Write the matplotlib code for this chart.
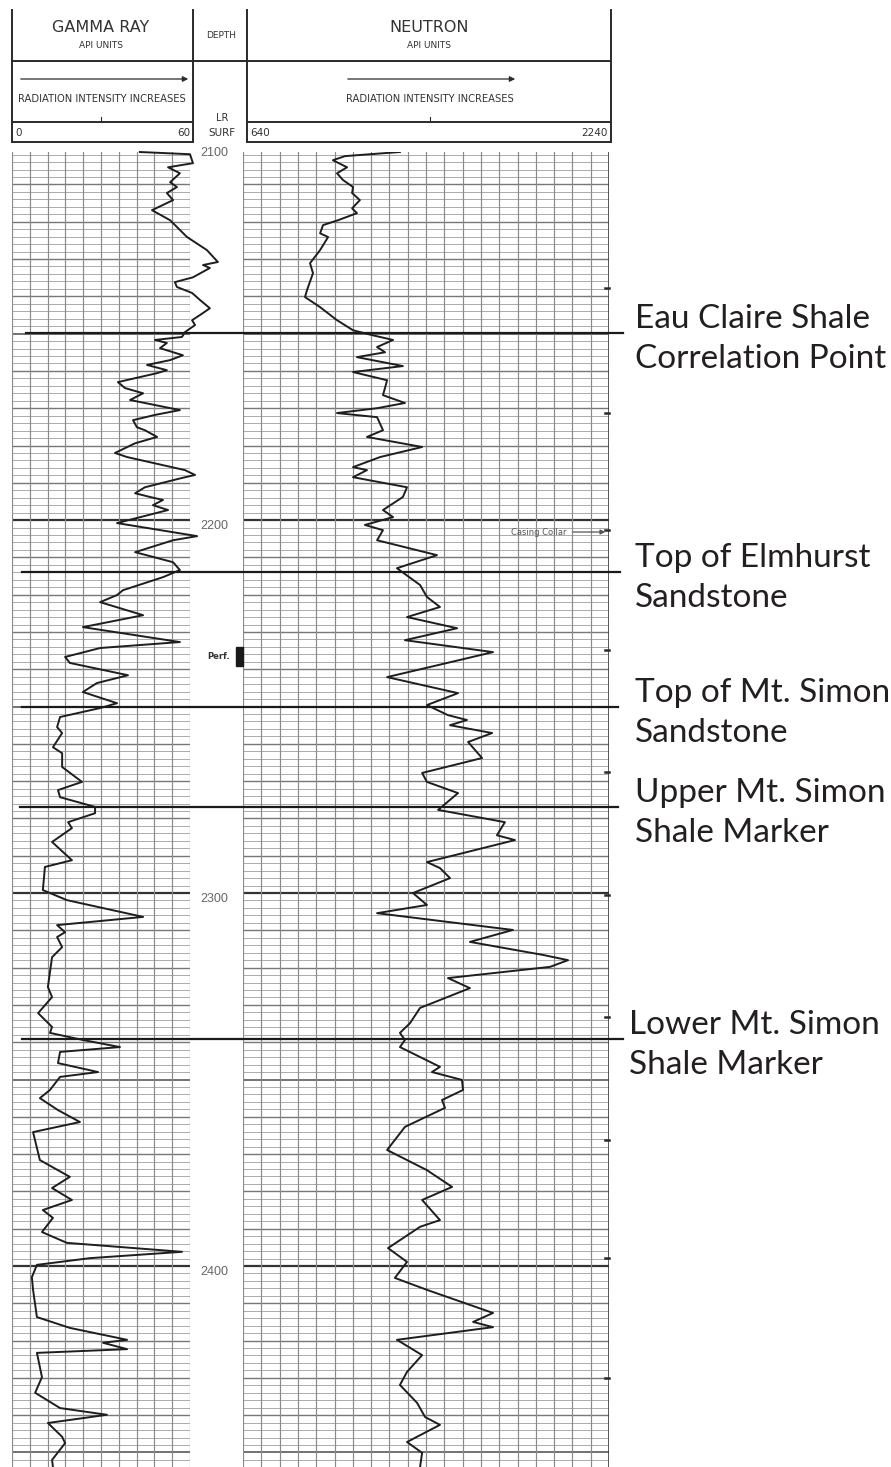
import numpy as np
import matplotlib
matplotlib.use("Agg")
import matplotlib.pyplot as plt
from matplotlib.patches import Rectangle

W, H = 891, 1467

# gamma ray curve: depth (ft) and API units
gamma_depth = [2101.3, 2101.9, 2104.3, 2105.4, 2107.0, 2109.4, 2110.7, 2112.3, 2114.2, 2116.9,
               2119.6, 2124.1, 2127.6, 2130.8, 2131.6, 2132.4, 2134.9, 2136.2, 2137.5, 2139.1,
               2141.0, 2143.2, 2145.0, 2146.4, 2147.7, 2149.6, 2150.9, 2151.7, 2152.5, 2153.9,
               2155.8, 2157.1, 2158.4, 2159.8, 2160.6, 2163.0, 2164.6, 2166.0, 2167.8, 2170.5,
               2171.8, 2173.2, 2175.1, 2175.9, 2177.7, 2179.4, 2182.0, 2183.1, 2186.6, 2187.9,
               2188.7, 2191.2, 2192.8, 2193.8, 2194.6, 2196.0, 2197.3, 2200.8, 2204.3, 2205.4,
               2208.6, 2211.3, 2213.4, 2215.3, 2218.8, 2220.1, 2222.0, 2225.5, 2228.7, 2232.7,
               2234.3, 2236.7, 2238.3, 2241.6, 2243.7, 2246.1, 2249.1, 2250.4, 2252.8, 2255.5,
               2257.1, 2260.9, 2262.5, 2266.2, 2270.2, 2272.4, 2274.3, 2276.9, 2278.6, 2281.0,
               2282.6, 2286.3, 2291.2, 2293.0, 2299.2, 2301.9, 2306.4, 2308.6, 2310.5, 2311.8,
               2314.5, 2317.2, 2325.2, 2327.9, 2332.2, 2335.9, 2337.5, 2339.4, 2341.3, 2342.6,
               2345.6, 2348.0, 2349.3, 2352.8, 2355.0, 2358.2, 2361.4, 2364.1, 2371.6, 2376.1,
               2379.1, 2382.3, 2385.0, 2387.1, 2390.9, 2393.8, 2396.2, 2397.9, 2399.7, 2403.0,
               2406.4, 2413.7, 2416.6, 2419.8, 2420.6, 2422.3, 2423.3, 2429.8, 2434.0, 2438.1,
               2439.9, 2442.1, 2445.8, 2447.5, 2452.0, 2453.9]
gamma_api = [43.1, 60.0, 61.0, 52.6, 56.6, 53.3, 55.6, 52.2, 54.3, 47.2,
             53.3, 59.0, 65.7, 69.4, 64.4, 66.7, 61.0, 54.9, 55.6, 60.7,
             63.4, 66.7, 63.4, 60.7, 61.7, 58.3, 57.3, 48.2, 52.2, 49.9,
             57.6, 53.3, 45.5, 52.2, 48.9, 35.7, 38.1, 44.2, 39.8, 56.6,
             48.2, 40.8, 42.1, 44.8, 48.9, 41.5, 34.7, 38.8, 58.3, 61.7,
             57.3, 44.8, 41.5, 46.5, 50.9, 47.5, 52.6, 35.4, 62.4, 54.3,
             41.5, 54.3, 56.6, 50.9, 37.4, 35.4, 29.7, 44.2, 23.9, 56.6,
             29.7, 17.9, 19.5, 39.1, 28.6, 23.9, 35.4, 29.7, 16.2, 15.2,
             16.9, 13.8, 16.9, 16.9, 23.6, 15.5, 16.2, 28.0, 28.0, 18.9,
             20.2, 13.5, 20.2, 11.1, 10.4, 18.5, 44.2, 15.2, 17.9, 15.2,
             16.9, 13.5, 12.1, 13.5, 8.8, 13.5, 12.8, 23.9, 36.4, 16.2,
             15.5, 29.0, 16.2, 12.8, 9.4, 15.5, 22.9, 7.1, 9.4, 19.5,
             13.5, 20.2, 10.4, 13.8, 10.1, 18.5, 57.3, 26.3, 8.4, 6.7,
             7.1, 8.4, 19.5, 38.8, 30.7, 38.8, 8.4, 10.1, 7.8, 16.2,
             32.0, 12.1, 16.9, 17.9, 13.5, 13.8]

# neutron curve: depth (ft) and API units
neutron_depth = [2101.3, 2102.4, 2103.5, 2105.4, 2107.0, 2108.8, 2110.7, 2112.3, 2114.2, 2116.4,
                 2117.7, 2119.6, 2120.9, 2123.1, 2124.1, 2127.6, 2131.1, 2133.8, 2138.3, 2140.2,
                 2142.9, 2146.4, 2149.1, 2150.4, 2151.7, 2153.6, 2155.0, 2156.3, 2158.7, 2160.3,
                 2162.5, 2166.5, 2168.6, 2170.0, 2171.3, 2172.4, 2175.9, 2177.7, 2180.4, 2183.1,
                 2185.8, 2186.6, 2188.5, 2191.2, 2193.8, 2197.3, 2199.2, 2201.3, 2202.7, 2205.4,
                 2209.4, 2212.9, 2217.4, 2220.6, 2223.3, 2226.0, 2229.0, 2232.2, 2235.4, 2242.1,
                 2246.4, 2249.6, 2252.3, 2253.6, 2255.0, 2257.1, 2259.5, 2263.8, 2267.8, 2270.2,
                 2273.2, 2277.7, 2281.0, 2284.5, 2285.8, 2291.7, 2293.3, 2296.0, 2300.0, 2303.2,
                 2305.4, 2309.9, 2313.1, 2316.6, 2318.0, 2319.8, 2322.8, 2325.5, 2330.8, 2334.9,
                 2337.5, 2339.4, 2341.3, 2346.6, 2348.0, 2350.1, 2352.8, 2355.5, 2357.6, 2362.7,
                 2368.9, 2374.3, 2378.8, 2382.3, 2387.7, 2389.5, 2395.2, 2398.9, 2403.2, 2406.4,
                 2412.6, 2415.0, 2416.4, 2419.8, 2423.9, 2428.4, 2431.9, 2436.7, 2440.5, 2442.6,
                 2447.2, 2450.1, 2453.9]
neutron_api = [1326, 1086, 1033, 1095, 1051, 1077, 1121, 1117, 1151, 1117,
               1138, 1055, 990, 977, 1012, 977, 933, 946, 920, 911,
               977, 1051, 1121, 1204, 1296, 1226, 1261, 1138, 1339, 1121,
               1270, 1252, 1348, 1226, 1051, 1226, 1252, 1182, 1423, 1239,
               1121, 1182, 1121, 1357, 1339, 1252, 1296, 1173, 1252, 1226,
               1488, 1313, 1414, 1444, 1501, 1357, 1576, 1348, 1733, 1270,
               1580, 1444, 1536, 1619, 1545, 1729, 1624, 1685, 1423, 1444,
               1580, 1493, 1785, 1750, 1829, 1444, 1501, 1545, 1383, 1444,
               1226, 1820, 1632, 1952, 2061, 1982, 1536, 1632, 1414, 1370,
               1326, 1348, 1326, 1501, 1466, 1597, 1602, 1510, 1523, 1348,
               1270, 1444, 1554, 1423, 1501, 1414, 1274, 1357, 1304, 1444,
               1733, 1646, 1733, 1313, 1423, 1357, 1326, 1401, 1436, 1501,
               1357, 1423, 1414]

# formation picks
formation_names = [("Eau Claire Shale", "Correlation Point"),
                   ("Top of Elmhurst", "Sandstone"),
                   ("Top of Mt. Simon", "Sandstone"),
                   ("Upper Mt. Simon", "Shale Marker"),
                   ("Lower Mt. Simon", "Shale Marker")]
formation_depths = [2149.9, 2214.0, 2250.1, 2276.9, 2339.1]

depth_labels = [2100, 2200, 2300, 2400]
perf_top, perf_base = 2234.0, 2239.0
collar_marks = [2137.8, 2171.3, 2202.7, 2234.9, 2267.6, 2300.5, 2333.2, 2366.2, 2397.9, 2430.0]
casing_collar_depth = 2203.2

TOP, BOT = 2101.3, 2453.9
GRID_TOP = 152
PX_PER_FT = (H - GRID_TOP) / (BOT - TOP)

HEAD_FONT = ["Liberation Sans Narrow", "DejaVu Sans"]
LABEL_FONT = ["Lato", "DejaVu Sans"]
INK = "#1e1e1e"


def px_rect(x0, y0, x1, y1):
    return [x0 / W, 1 - y1 / H, (x1 - x0) / W, (y1 - y0) / H]


def draw_grid(ax, x0, x1, ndiv):
    for d in np.arange(2100, 2456, 2):
        if d % 100 == 0:
            c, lw = "#333333", 1.6
        elif d % 50 == 0:
            c, lw = "#5a5a5a", 1.2
        elif d % 10 == 0:
            c, lw = "#777777", 1.0
        else:
            c, lw = "#ababab", 0.7
        ax.axhline(d, color=c, lw=lw, zorder=1)
    for x in np.linspace(x0, x1, ndiv + 1):
        ax.axvline(x, color="#8a8a8a", lw=0.85, zorder=1)
    ax.set_xlim(x0, x1)
    ax.set_ylim(BOT, TOP)
    ax.axis("off")


fig = plt.figure(figsize=(W / 100, H / 100), dpi=100)

# header block, drawn in pixel coordinates
ax_h = fig.add_axes([0, 0, 1, 1])
ax_h.set_xlim(0, W)
ax_h.set_ylim(H, 0)
ax_h.axis("off")
hk = dict(color="#2a2a2a", lw=1.4)
for x in [12, 193, 247, 611]:
    ax_h.plot([x, x], [10, 142], **hk)
ax_h.plot([12, 611], [61, 61], **hk)
for y in [122, 142]:
    ax_h.plot([12, 193], [y, y], **hk)
    ax_h.plot([247, 611], [y, y], **hk)
for xc in [101, 430]:
    ax_h.plot([xc, xc], [117, 122], color="#2a2a2a", lw=0.8)

tk = dict(family=HEAD_FONT, color="#333333", ha="center", va="center")
ax_h.text(101, 28, "GAMMA RAY", fontsize=11.5, **tk)
ax_h.text(101, 45, "API UNITS", fontsize=6.5, **tk)
ax_h.text(429, 28, "NEUTRON", fontsize=11.5, **tk)
ax_h.text(429, 45, "API UNITS", fontsize=6.5, **tk)
ax_h.text(221, 35, "DEPTH", fontsize=6.5, **tk)
ax_h.text(102, 99, "RADIATION INTENSITY INCREASES", fontsize=7.2, **tk)
ax_h.text(430, 99, "RADIATION INTENSITY INCREASES", fontsize=7.2, **tk)
ax_h.text(222, 118, "LR", fontsize=7, **tk)
ax_h.text(222, 133, "SURF", fontsize=7.5, **tk)
ax_h.text(15, 133, "0", fontsize=7.5, **{**tk, "ha": "left"})
ax_h.text(190, 133, "60", fontsize=7.5, **{**tk, "ha": "right"})
ax_h.text(250, 133, "640", fontsize=7.5, **{**tk, "ha": "left"})
ax_h.text(608, 133, "2240", fontsize=7.5, **{**tk, "ha": "right"})
arrow = dict(arrowstyle="-|>", color="#2a2a2a", lw=0.9, mutation_scale=8)
ax_h.annotate("", xy=(191, 79), xytext=(18, 79), arrowprops=arrow)
ax_h.annotate("", xy=(518, 79), xytext=(345, 79), arrowprops=arrow)

# gamma ray track
ax_gr = fig.add_axes(px_rect(12, GRID_TOP, 190, H))
draw_grid(ax_gr, 0, 60, 10)
ax_gr.plot(gamma_api, gamma_depth, color=INK, lw=1.4, zorder=3, clip_on=False)

# neutron track
ax_nt = fig.add_axes(px_rect(243, GRID_TOP, 609, H))
draw_grid(ax_nt, 640, 2240, 20)
ax_nt.axvline(2240, color="#2a2a2a", lw=1.8, zorder=2)
ax_nt.plot(neutron_api, neutron_depth, color=INK, lw=1.4, zorder=3)
for d in collar_marks:
    ax_nt.plot([2222, 2240], [d, d], color="#2a2a2a", lw=1.8, zorder=2, clip_on=False)
ax_nt.annotate("", xy=(2236, casing_collar_depth), xytext=(2070, casing_collar_depth),
               arrowprops=dict(arrowstyle="-|>", color="#555555", lw=0.9, mutation_scale=7))
ax_nt.text(2055, casing_collar_depth, "Casing Collar", fontsize=6, color="#555555",
           ha="right", va="center", family=HEAD_FONT)

# overlay for depth column and formation picks (x in pixels, y in feet)
ax_o = fig.add_axes(px_rect(0, GRID_TOP, W, H))
ax_o.set_xlim(0, W)
ax_o.set_ylim(BOT, TOP)
ax_o.patch.set_alpha(0)
ax_o.axis("off")

for d in depth_labels:
    ax_o.text(214, d, str(d), fontsize=9, color="#666666", ha="center", va="top",
              family=["Liberation Sans", "DejaVu Sans"], clip_on=False)

ax_o.text(230, (perf_top + perf_base) / 2, "Perf.", fontsize=6, color="#333333",
          ha="right", va="center", family=HEAD_FONT, fontweight="bold")
ax_o.add_patch(Rectangle((236, perf_top), 7, perf_base - perf_top, color="#1a1a1a"))

line_x0 = [26, 22, 22, 20, 22]
line_x1 = [623, 620, 618, 618, 623]
text_x = [635, 635, 635, 635, 629]
for (l1, l2), d, a, b, tx in zip(formation_names, formation_depths, line_x0, line_x1, text_x):
    ax_o.plot([a, b], [d, d], color="#1a1a1a", lw=1.6, zorder=5)
    ax_o.text(tx, d - 5 / PX_PER_FT, l1, fontsize=24, color="#231f20", family=LABEL_FONT,
              ha="left", va="baseline")
    ax_o.text(tx, d + 35 / PX_PER_FT, l2, fontsize=24, color="#231f20", family=LABEL_FONT,
              ha="left", va="baseline")

fig.savefig("out.png", dpi=100, facecolor="white")
